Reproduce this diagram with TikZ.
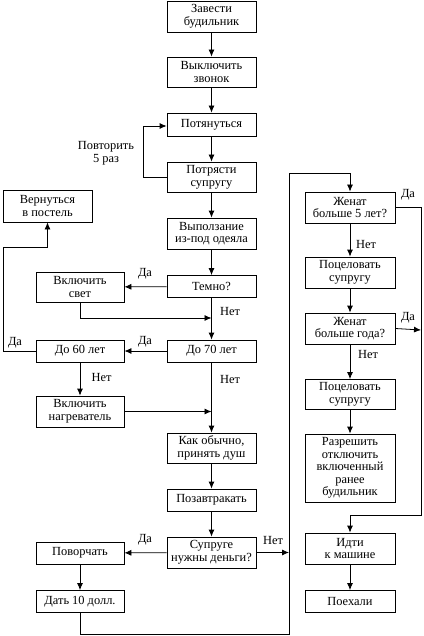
\documentclass[tikz,border=0pt]{standalone}
\usepackage{fontspec}
\setmainfont{Liberation Serif}
\usetikzlibrary{arrows.meta}
\usetikzlibrary{positioning}
\tikzset{blk/.style = {draw, line width = 0.8, align = center, inner sep = 0, minimum width = 89, minimum height = 31, font = \fontsize{12.4}{12.6}\selectfont}}
\tikzset{lbl/.style = {inner sep = 0, align = center, font = \fontsize{12.4}{12.6}\selectfont}}
\tikzset{arr/.style = {-{Latex[length = 7pt, width = 6pt]}, line width = 0.8}}

\begin{document}
\begin{tikzpicture}[x=1pt, y=-1pt]
  \useasboundingbox (0, 0) rectangle (423, 636);

  % main column
  \node [blk] (zav) at (211.5, 16.5) {Завести\\будильник};
  \node [blk, minimum height = 30] (vykl) at (211.5, 72) {Выключить\\звонок};
  \node [blk, minimum height = 23] (pot) at (211.5, 124.5) {Потянуться};
  \node [blk, minimum height = 30] (potr) at (211.5, 177) {Потрясти\\супругу};
  \node [blk] (vyp) at (211.5, 233.5) {Выползание\\из-под одеяла};
  \node [blk, minimum height = 22] (temno) at (211.5, 286.5) {Темно?};
  \node [blk, minimum height = 22] (do70) at (211.5, 351) {До 70 лет};
  \node [blk, minimum height = 30] (kak) at (211.5, 448) {Как обычно,\\принять душ};
  \node [blk, minimum height = 22] (zavtr) at (211.5, 500) {Позавтракать};
  \node [blk] (den) at (211.5, 552.5) {Супруге\\нужны деньги?};

  % left column
  \node [blk, minimum width = 88, minimum height = 30] (svet) at (80, 287) {Включить\\свет};
  \node [blk, minimum width = 88, minimum height = 22] (do60) at (80, 351) {До 60 лет};
  \node [blk, minimum width = 88] (nagr) at (80, 411.5) {Включить\\нагреватель};
  \node [blk, minimum width = 88, minimum height = 22] (vorch) at (80, 553) {Поворчать};
  \node [blk, minimum width = 88, minimum height = 22] (dat) at (80, 601.5) {Дать 10 долл.};
  \node [blk, minimum height = 32] (postel) at (47.5, 206) {Вернуться\\в постель};

  % right column
  \node [blk, minimum width = 90] (zh5) at (350, 207.5) {Женат\\больше 5 лет?};
  \node [blk, minimum width = 90] (poc1) at (350, 272.5) {Поцеловать\\супругу};
  \node [blk, minimum width = 90] (zhg) at (350, 328.5) {Женат\\больше года?};
  \node [blk, minimum width = 90, minimum height = 30] (poc2) at (350, 394.5) {Поцеловать\\супругу};
  \node [blk, minimum width = 90, minimum height = 68] (razr) at (350, 468) {Разрешить\\отключить\\включенный\\ранее\\будильник};
  \node [blk, minimum width = 90] (idti) at (350, 548.5) {Идти\\к машине};
  \node [blk, minimum width = 90, minimum height = 22] (poeh) at (350, 601.5) {Поехали};

  \coordinate (j1) at (211.5, 318);
  \coordinate (j2) at (211.5, 411.5);
  \coordinate (j3) at (289, 552.5);
  \coordinate (bus) at (289, 634);
  \coordinate (up) at (289, 173);
  \coordinate (rt) at (421, 330);

  \draw [arr] (zav) -- (vykl);
  \draw [arr] (vykl) -- (pot);
  \draw [arr] (pot) -- (potr);
  \draw [arr] (potr.west) -- ++(-23, 0) |- ([yshift = -1.5]pot.west);
  \draw [arr] (potr) -- (vyp);
  \draw [arr] (vyp) -- (temno);
  \draw [arr] (temno) -- (svet);
  \draw [arr] (temno) -- (do70);
  \draw [arr] (svet.south) |- (j1);
  \draw [arr] (do70) -- (do60);
  \draw [arr] (do60.west) -| ++(-32, -104) -| (postel.south);
  \draw [arr] (do60) -- (nagr);
  \draw [arr] (nagr) -- (j2);
  \draw [arr] (do70) -- (kak);
  \draw [arr] (kak) -- (zavtr);
  \draw [arr] (zavtr) -- (den);
  \draw [arr] (den) -- (vorch);
  \draw [arr] (den) -- (j3);
  \draw [arr] (vorch) -- (dat);
  \draw [arr] (dat.south) |- (bus) -- (up) -| (zh5.north);
  \draw [arr] (zh5) -- (poc1);
  \draw [arr] (zh5.east) -| (421, 515) -| (idti.north);
  \draw [arr] (poc1) -- (zhg);
  \draw [arr] (zhg.east) -- (rt);
  \draw [arr] (zhg) -- (poc2);
  \draw [arr] (poc2) -- (razr);
  \draw [arr] (idti) -- (poeh);

  \node [lbl] (rep) at (106, 153) {Повторить\\5 раз};
  \node [lbl] (yes1) at (145, 274) {Да};
  \node [lbl] (no1) at (230, 311) {Нет};
  \node [lbl] (yes2) at (145, 342) {Да};
  \node [lbl] (yes3) at (15, 343) {Да};
  \node [lbl] (no2) at (101.5, 377) {Нет};
  \node [lbl] (no3) at (230, 379) {Нет};
  \node [lbl] (yes4) at (145, 540) {Да};
  \node [lbl] (no4) at (273, 540) {Нет};
  \node [lbl] (yes5) at (408, 195) {Да};
  \node [lbl] (no5) at (366, 245) {Нет};
  \node [lbl] (yes6) at (408, 318) {Да};
  \node [lbl] (no6) at (368, 354) {Нет};
\end{tikzpicture}
\end{document}
